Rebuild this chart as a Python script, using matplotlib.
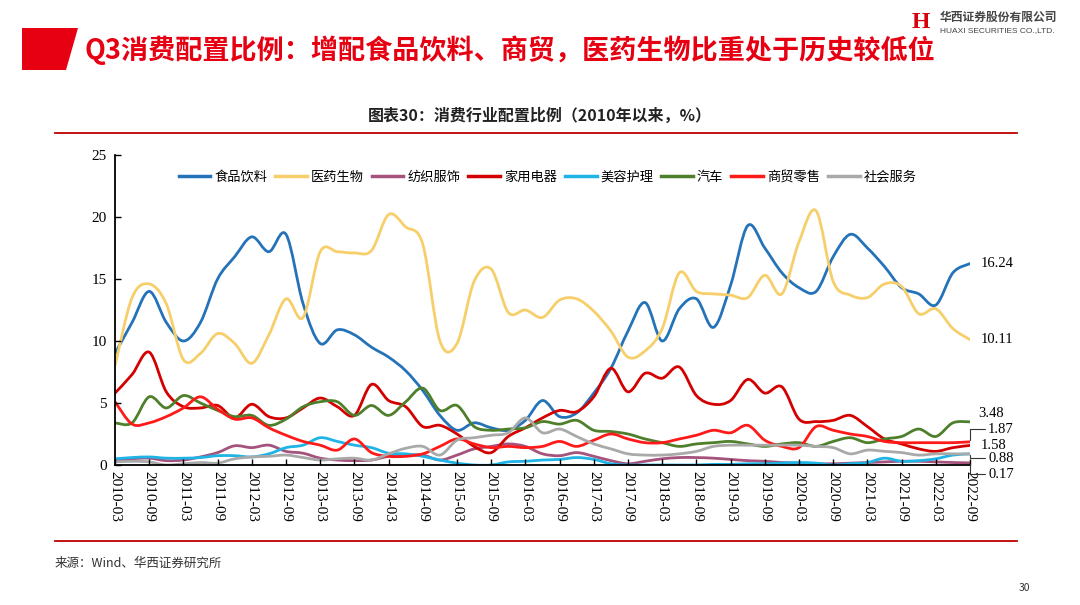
import numpy as np
import pandas as pd
import matplotlib
matplotlib.use('Agg')
import matplotlib.pyplot as plt
from matplotlib.path import Path
from matplotlib.patches import PathPatch, Polygon
from matplotlib.lines import Line2D

plt.rcParams['font.family'] = ['Noto Sans CJK SC', 'DejaVu Sans']

# quarterly data, 2010-03 .. 2022-09
quarters = pd.date_range('2010-03-01', periods=51, freq='QS-MAR').strftime('%Y-%m').tolist()
tick_labels = quarters[::2]

food = [9.0, 11.5, 14.0, 11.5, 10.0, 11.5, 15.0, 16.8, 18.4, 17.2,
        18.6, 13.0, 9.8, 10.9, 10.5, 9.5, 8.7, 7.6, 6.0, 4.0,
        2.8, 3.4, 3.0, 2.8, 3.6, 5.2, 3.9, 4.2, 5.8, 7.8,
        10.8, 13.1, 10.0, 12.6, 13.4, 11.1, 14.5, 19.3, 17.5, 15.5,
        14.3, 14.0, 16.8, 18.6, 17.5, 16.0, 14.3, 13.8, 12.9, 15.5, 16.24]
pharma = [8.0, 13.5, 14.6, 13.0, 8.5, 9.0, 10.6, 9.8, 8.2, 10.5,
          13.4, 11.9, 17.2, 17.2, 17.1, 17.3, 20.2, 19.2, 17.8, 10.0,
          9.8, 14.8, 15.8, 12.3, 12.5, 11.9, 13.3, 13.4, 12.4, 10.8,
          8.7, 9.2, 11.0, 15.5, 14.0, 13.8, 13.7, 13.5, 15.3, 13.8,
          18.0, 20.5, 14.8, 13.7, 13.5, 14.6, 14.4, 12.2, 12.6, 11.0, 10.11]
textile = [0.3, 0.5, 0.55, 0.35, 0.4, 0.65, 1.0, 1.55, 1.4, 1.6,
           1.1, 0.95, 0.55, 0.4, 0.35, 0.4, 0.7, 0.8, 0.8, 0.4,
           0.8, 1.3, 1.5, 1.7, 1.5, 0.9, 0.75, 1.0, 0.7, 0.35,
           0.1, 0.3, 0.5, 0.6, 0.6, 0.55, 0.45, 0.35, 0.3, 0.2,
           0.15, 0.1, 0.1, 0.15, 0.2, 0.25, 0.3, 0.3, 0.25, 0.2, 0.17]
appliance = [5.8, 7.3, 9.1, 5.9, 4.7, 4.6, 4.8, 3.8, 4.9, 3.9,
             3.8, 4.6, 5.4, 4.7, 4.0, 6.5, 5.2, 4.7, 3.1, 3.2,
             2.5, 1.5, 1.0, 2.3, 3.0, 3.8, 4.4, 4.3, 5.5, 7.8,
             5.9, 7.4, 7.0, 7.9, 5.6, 4.9, 5.2, 6.9, 5.8, 6.3,
             3.7, 3.5, 3.6, 4.0, 3.1, 2.1, 1.7, 1.3, 1.1, 1.4, 1.58]
beauty = [0.5, 0.6, 0.65, 0.55, 0.55, 0.6, 0.75, 0.75, 0.65, 0.9,
          1.4, 1.6, 2.2, 1.9, 1.6, 1.4, 0.95, 0.9, 0.7, 0.4,
          0.15, 0.0, 0.0, 0.25, 0.3, 0.4, 0.45, 0.6, 0.45, 0.1,
          0.0, 0.0, 0.0, 0.0, 0.0, 0.05, 0.05, 0.1, 0.1, 0.15,
          0.2, 0.15, 0.0, 0.1, 0.2, 0.55, 0.3, 0.35, 0.5, 0.8, 0.9]
auto = [3.4, 3.4, 5.5, 4.6, 5.6, 5.0, 4.4, 3.9, 4.0, 3.2,
        3.7, 4.7, 5.1, 5.1, 4.0, 4.8, 4.0, 5.1, 6.2, 4.4,
        4.8, 3.1, 2.8, 2.9, 3.0, 3.5, 3.3, 3.6, 2.8, 2.7,
        2.5, 2.1, 1.8, 1.5, 1.7, 1.8, 1.9, 1.7, 1.5, 1.7,
        1.8, 1.5, 1.9, 2.2, 1.8, 2.1, 2.3, 2.9, 2.3, 3.4, 3.48]
retail = [5.1, 3.3, 3.4, 3.9, 4.6, 5.5, 4.5, 3.7, 3.8, 3.0,
          2.4, 1.9, 1.6, 1.2, 2.1, 1.0, 0.7, 0.7, 0.9, 1.5,
          2.1, 1.7, 1.4, 1.5, 1.4, 1.5, 1.9, 1.5, 2.0, 2.5,
          2.1, 1.8, 1.8, 2.1, 2.4, 2.8, 2.6, 3.2, 2.0, 1.5,
          1.4, 3.1, 2.8, 2.5, 2.3, 1.9, 1.8, 1.8, 1.8, 1.8, 1.87]
service = [0.25, 0.3, 0.25, 0.0, 0.1, 0.2, 0.15, 0.5, 0.65, 0.7,
           0.8, 0.6, 0.4, 0.5, 0.55, 0.4, 0.9, 1.35, 1.5, 0.8,
           2.0, 2.2, 2.4, 2.6, 3.8, 2.6, 2.9, 2.3, 1.7, 1.3,
           0.9, 0.8, 0.8, 0.9, 1.1, 1.5, 1.6, 1.6, 1.6, 1.6,
           1.6, 1.5, 1.4, 0.9, 1.2, 1.1, 1.0, 0.8, 0.9, 0.9, 0.88]

names = ['食品饮料', '医药生物', '纺织服饰', '家用电器', '美容护理', '汽车', '商贸零售', '社会服务']
series = [food, pharma, textile, appliance, beauty, auto, retail, service]
colors = ['#2472B8', '#F7CF6A', '#A5527D', '#D40000', '#1EB4E6', '#4E7F2A', '#FF1A1A', '#A9A9A9']


def smooth_path(xs, ys):
    # smoothed line like excel: bezier through every point
    verts = [(xs[0], ys[0])]
    codes = [Path.MOVETO]
    n = len(xs)
    for i in range(n - 1):
        a = i - 1 if i > 0 else i
        d = i + 2 if i + 2 < n else i + 1
        c1 = (xs[i] + (xs[i + 1] - xs[a]) / 6, ys[i] + (ys[i + 1] - ys[a]) / 6)
        c2 = (xs[i + 1] - (xs[d] - xs[i]) / 6, ys[i + 1] - (ys[d] - ys[i]) / 6)
        verts += [c1, c2, (xs[i + 1], ys[i + 1])]
        codes += [Path.CURVE4] * 3
    return Path(verts, codes)


W, H = 1080, 605
fig = plt.figure(figsize=(W / 100, H / 100), dpi=100)

def fx(px):
    return px / W

def fy(py):
    return 1 - py / H

# header
fig.patches.append(Polygon([(fx(22), fy(28)), (fx(78), fy(28)), (fx(66), fy(70)), (fx(22), fy(70))],
                           closed=True, transform=fig.transFigure, facecolor='#E60012', edgecolor='none'))
fig.text(fx(84), fy(50), 'Q3消费配置比例：增配食品饮料、商贸，医药生物比重处于历史较低位',
         fontsize=19.5, fontweight='bold', color='#E60012', va='center', ha='left')
fig.text(fx(921), fy(22), 'H', fontsize=17, fontweight='bold', color='#D7000F',
         family='Liberation Serif', ha='center', va='center')
fig.text(fx(940), fy(17), '华西证券股份有限公司', fontsize=8.5, fontweight='bold', color='#444444',
         ha='left', va='center')
fig.text(fx(940), fy(31), 'HUAXI SECURITIES CO.,LTD.', fontsize=6, color='#444444',
         ha='left', va='center', family='Liberation Sans')

fig.text(0.5, fy(116), '图表30：消费行业配置比例（2010年以来，%）', fontsize=11.5, fontweight='bold',
         ha='center', va='center', color='#222222')
fig.add_artist(Line2D([fx(55), fx(1017)], [fy(133), fy(133)], color='#C00000', lw=1.3))
fig.add_artist(Line2D([fx(55), fx(1017)], [fy(541), fy(541)], color='#C00000', lw=1.3))
fig.text(fx(55), fy(563), '来源：Wind、华西证券研究所', fontsize=9, color='#333333',
         ha='left', va='center', style='italic')
fig.text(fx(1030), fy(588), '30', fontsize=7.5, color='#333333', ha='right', va='center')

# chart
ax = fig.add_axes([fx(115), fy(465), (970 - 115) / W, (465 - 155) / H])
x = np.arange(len(quarters))
handles = []
for name, vals, c in zip(names, series, colors):
    ax.add_patch(PathPatch(smooth_path(x, vals), facecolor='none', edgecolor=c, lw=2.0,
                           capstyle='round', joinstyle='round'))
    handles.append(Line2D([], [], color=c, lw=2.5, label=name))

ax.set_xlim(0, len(quarters) - 1)
ax.set_ylim(0, 25)
ax.set_yticks([0, 5, 10, 15, 20, 25])
ax.set_xticks(x[::2])
ax.set_xticklabels(tick_labels, rotation=270, fontsize=11, family='Liberation Serif')
for lab in ax.get_yticklabels():
    lab.set_family('Liberation Serif')
    lab.set_fontsize(11)
ax.tick_params(axis='both', direction='in', length=4, width=1, color='black', pad=6)
ax.tick_params(axis='x', pad=4)
for s in ['top', 'right']:
    ax.spines[s].set_visible(False)
for s in ['left', 'bottom']:
    ax.spines[s].set_linewidth(1.3)

ax.legend(handles=handles, ncol=8, loc='center', bbox_to_anchor=(0.506, 0.929), frameon=False,
          fontsize=9.5, handlelength=2.4, handletextpad=0.3, columnspacing=0.6)

# end values
end_labels = [(food, '16.24', 8, 0, None), (pharma, '10.11', 8, 0, None), (auto, '3.48', 6, 6, None),
              (retail, '1.87', 13, 9, True), (appliance, '1.58', 8, 0, None),
              (beauty, '0.88', 13, -3, True), (textile, '0.17', 13, -8, True)]
for vals, txt, dx, dy, bracket in end_labels:
    if bracket:
        ax.annotate(txt, xy=(x[-1], vals[-1]), xytext=(dx, dy), textcoords='offset points',
                    fontsize=10.5, family='Liberation Serif', va='center', ha='left', annotation_clip=False,
                    arrowprops=dict(arrowstyle='-', lw=0.8, color='#333333', shrinkA=0, shrinkB=1,
                                    connectionstyle='angle,angleA=0,angleB=90,rad=0'))
    else:
        ax.annotate(txt, xy=(x[-1], vals[-1]), xytext=(dx, dy), textcoords='offset points',
                    fontsize=10.5, family='Liberation Serif', va='center', ha='left', annotation_clip=False)

fig.savefig('out.png', dpi=100)
